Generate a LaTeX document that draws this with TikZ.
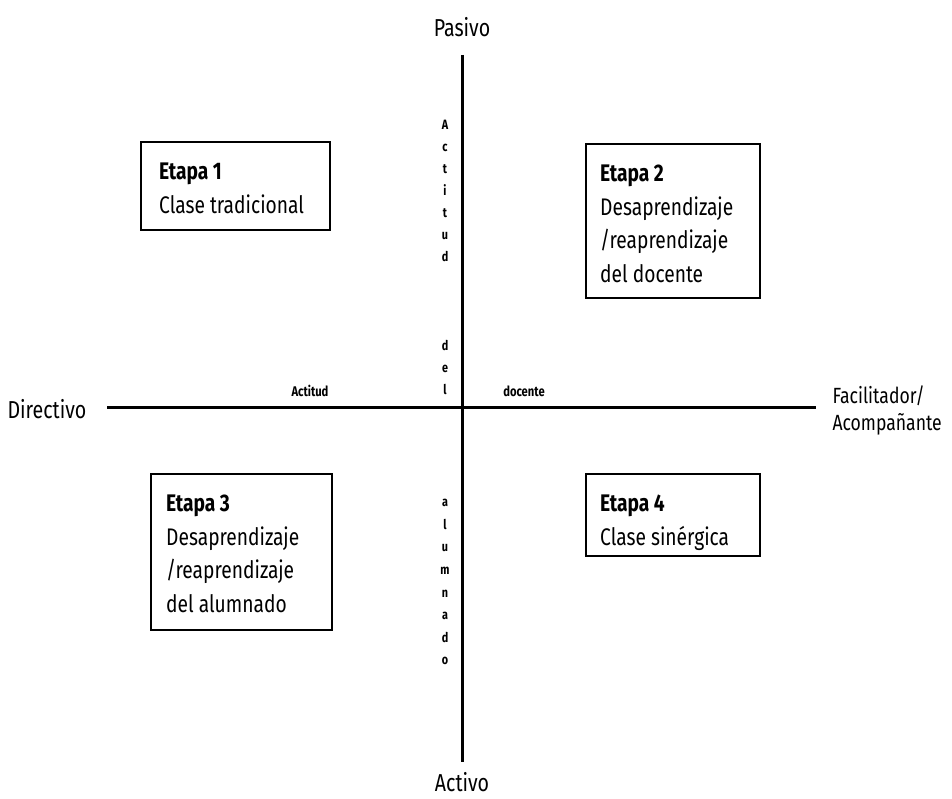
\documentclass[tikz,border=0pt]{standalone}
\usepackage{fontspec}
\setmainfont[FakeStretch=0.8]{Fira Sans}
\begin{document}
\begin{tikzpicture}[x=1pt,y=-1pt,
  axis/.style={line width=3pt},
  stagebox/.style={draw,line width=1.4pt,inner sep=0pt},
  pole/.style={font=\fontsize{24.5}{27}\selectfont},
  stagetxt/.style={anchor=north west,align=left,inner sep=0pt,
    font=\fontsize{24}{33.5}\selectfont},
  small/.style={font=\fontsize{14}{16}\selectfont\bfseries},
  vstack/.style={align=center,inner sep=0pt,anchor=north,
    font=\fontsize{13.5}{22}\selectfont\bfseries}]
\useasboundingbox (0,0) rectangle (952,799);

% axes
\coordinate (vtop) at (462,55);
\coordinate (vbot) at (462,762);
\coordinate (hleft) at (107,407);
\coordinate (hright) at (816,407);
\draw[axis] (vtop) -- (vbot);
\draw[axis] (hleft) -- (hright);

% poles
\node[pole] (pasivo) at (462,27) {Pasivo};
\node[pole] (activo) at (462,782) {Activo};
\node[pole,anchor=west] (directivo) at (4,409) {Directivo};
\node[pole,anchor=west,align=left,font=\fontsize{22}{27}\selectfont] (facil) at (829,410) {Facilitador/\\Acompañante};

% stage boxes
\draw[stagebox] (141,142) rectangle (330,230);
\node[stagetxt] (e1) at (159,163) {\textbf{Etapa 1}\\Clase tradicional};

\draw[stagebox] (586,144) rectangle (760,298);
\node[stagetxt] (e2) at (600,165) {\textbf{Etapa 2}\\Desaprendizaje\\/reaprendizaje\\del docente};

\draw[stagebox] (151,474) rectangle (332,630);
\node[stagetxt] (e3) at (166,495) {\textbf{Etapa 3}\\Desaprendizaje\\/reaprendizaje\\del alumnado};

\draw[stagebox] (586,474) rectangle (760,556);
\node[stagetxt] (e4) at (600,495) {\textbf{Etapa 4}\\Clase sinérgica};

% axis captions
\node[small] (hact) at (310,391) {Actitud};
\node[small] (hdoc) at (524,391) {docente};
\node[vstack] (vact) at (445,120) {A\\c\\t\\i\\t\\u\\d};
\node[vstack] (vdel) at (445,340) {d\\e\\l};
\node[vstack,font=\fontsize{13.5}{22.6}\selectfont\bfseries] (valu) at (445,499) {a\\l\\u\\m\\n\\a\\d\\o};
\end{tikzpicture}
\end{document}
